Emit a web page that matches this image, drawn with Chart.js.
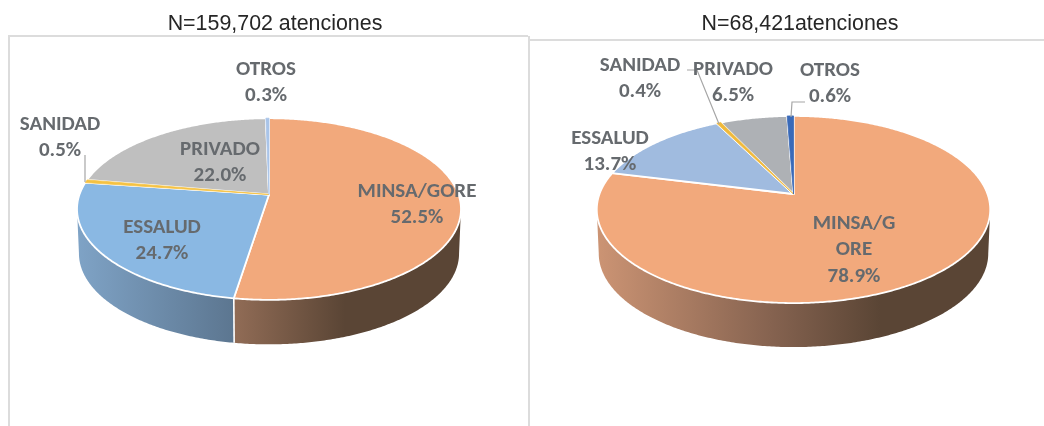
<!DOCTYPE html>
<html><head><meta charset="utf-8">
<style>
html,body{margin:0;padding:0;background:#fff;width:1044px;height:426px;overflow:hidden}
canvas{position:absolute;top:0}
.ln{position:absolute;background:#dcdcdc}
</style>
<script src="https://cdn.jsdelivr.net/npm/chart.js@4"></script>
</head><body>
<div class="ln" style="left:8px;top:35px;width:520px;height:2px"></div>
<div class="ln" style="left:8px;top:35px;width:2px;height:391px"></div>
<div class="ln" style="left:528px;top:36px;width:2px;height:390px"></div>
<div class="ln" style="left:530px;top:39px;width:514px;height:2px"></div>
<canvas id="a" width="550" height="426" style="left:0;width:550px;height:426px"></canvas>
<canvas id="b" width="488" height="426" style="left:556px;width:488px;height:426px"></canvas>
<script>
const categories = ['MINSA/GORE','ESSALUD','SANIDAD','PRIVADO','OTROS'];
const valuesLeft = [52.5,24.7,0.5,22.0,0.3];
const valuesRight = [78.9,13.7,0.4,6.5,0.6];
const titleLeft = 'N=159,702 atenciones';
const titleRight = 'N=68,421atenciones';
const namesRight = [['MINSA/G','ORE'],['ESSALUD'],['SANIDAD'],['PRIVADO'],['OTROS']];
const namesLeft = categories.map(c=>[c]);
const coloursLeft = ['#f2a97c','#8ab8e3','#f5c242','#bfbfbf','#a9c4e8'];
const coloursRight = ['#f2a97c','#a0bbdf','#f0b93a','#aeb1b5','#3a6ab8'];

const layoutLeft = {off:0,cx:269,ay:194.5,a:189.5,b:88.5,k:0.16,depth:44.5,
  labels:[[417,197],[162,233],[60,130],[220,155],[266,75]],
  leaders:[[[85,155],[85,182]]],
  walls:[[[234,'#916c56'],[345,'#5a4535'],[461,'#5a4535']],[[77,'#7fa3c6'],[234,'#5c7690']]]};
const layoutRight = {off:556,cx:793.5,ay:194,a:194,b:91,k:0.1657,depth:44,
  labels:[[854,229],[610,144],[640,71],[733,75],[830,76]],
  leaders:[[[687,70],[697,70],[719,124]],[[805,102],[792,102],[791,117]]],
  walls:[[[597,'#cc9474'],[770,'#866350'],[880,'#5a4535'],[990,'#5a4535']],[[597,'#7fa3c6'],[700,'#5c7690']]]};

function pie3d(L,names){
  const pt=(t,dy=0,sc=1)=>{const w=1-L.k*Math.sin(t);
    return [L.cx-L.off+sc*L.a*Math.cos(t)/w, L.ay+L.b*Math.sin(t)/w+dy];};
  const sample=(ctx,t0,t1,dy,sc,first)=>{const n=Math.max(2,Math.ceil(Math.abs(t1-t0)/0.01));
    for(let i=0;i<=n;i++){const p=pt(t0+(t1-t0)*i/n,dy,sc);
      if(i===0&&first)ctx.moveTo(p[0],p[1]);else ctx.lineTo(p[0],p[1]);}};
  return {id:'pie3d',
    beforeDatasetDraw(chart,args){
      const ctx=chart.ctx,arcs=args.meta.data,s=Math.asin(L.k),e=Math.PI-s;
      const slice=arc=>{ctx.beginPath();ctx.moveTo(L.cx-L.off,L.ay);
        sample(ctx,arc.startAngle,arc.endAngle,0,1,false);ctx.closePath();};
      ctx.save();
      arcs.forEach((arc,i)=>{
        const t0=Math.max(arc.startAngle,s),t1=Math.min(arc.endAngle,e);
        const stops=L.walls[i]; if(!stops||t1<=t0)return;
        const g=ctx.createLinearGradient(stops[0][0]-L.off,0,stops[stops.length-1][0]-L.off,0);
        const x0=stops[0][0],x1=stops[stops.length-1][0];
        stops.forEach(o=>g.addColorStop((o[0]-x0)/(x1-x0),o[1]));
        ctx.beginPath();sample(ctx,t0,t1,0,1,true);sample(ctx,t1,t0,L.depth,0.99,false);ctx.closePath();
        ctx.fillStyle=g;ctx.fill();
      });
      arcs.forEach(arc=>{
        const t1=arc.endAngle;
        if(t1>s&&t1<e){const p=pt(t1),q=pt(t1,L.depth,0.99);ctx.beginPath();ctx.moveTo(p[0],p[1]);ctx.lineTo(q[0],q[1]);
          ctx.strokeStyle='#fff';ctx.lineWidth=1.6;ctx.stroke();}
      });
      arcs.forEach(arc=>{
        slice(arc);
        ctx.fillStyle=arc.options.backgroundColor;ctx.fill();
        ctx.strokeStyle='#fff';ctx.lineWidth=1.8;ctx.lineJoin='round';ctx.stroke();
      });
      // thin slices stay visible on top of their neighbours' separators
      arcs.forEach(arc=>{
        if(arc.endAngle-arc.startAngle<0.06){slice(arc);
          ctx.fillStyle=arc.options.backgroundColor;ctx.fill();
          ctx.strokeStyle=arc.options.backgroundColor;ctx.lineWidth=0.8;ctx.stroke();}
      });
      ctx.restore();
      return false;
    },
    afterDatasetsDraw(chart){
      const ctx=chart.ctx,vals=chart.data.datasets[0].data;
      ctx.save();
      ctx.strokeStyle='#a6a6a6';ctx.lineWidth=1.2;
      L.leaders.forEach(l=>{ctx.beginPath();l.forEach((p,i)=>i?ctx.lineTo(p[0]-L.off,p[1]):ctx.moveTo(p[0]-L.off,p[1]));ctx.stroke();});
      ctx.font='bold 21px Carlito, Lato, "Open Sans", sans-serif';
      ctx.fillStyle='#666a6e';ctx.textAlign='center';ctx.textBaseline='alphabetic';
      vals.forEach((v,i)=>{const [x,y]=L.labels[i];
        const lines=[...names[i],v.toFixed(1)+'%'];
        lines.forEach((t,j)=>ctx.fillText(t,x-L.off,y+j*26.3));});
      ctx.restore();
    }};
}
function make(id,vals,cols,title,L,names){
  new Chart(document.getElementById(id),{type:'pie',
    data:{labels:categories,datasets:[{data:vals,backgroundColor:cols,borderWidth:0}]},
    options:{responsive:false,animation:false,
      plugins:{legend:{display:false},tooltip:{enabled:false},
        title:{display:true,text:title,color:'#262626',font:{family:'"Liberation Sans",Arial,sans-serif',size:21.4,weight:'normal'},padding:{top:11,bottom:6}}}},
    plugins:[pie3d(L,names)]});
}
make('a',valuesLeft,coloursLeft,titleLeft,layoutLeft,namesLeft);
make('b',valuesRight,coloursRight,titleRight,layoutRight,namesRight);
</script>
</body></html>
